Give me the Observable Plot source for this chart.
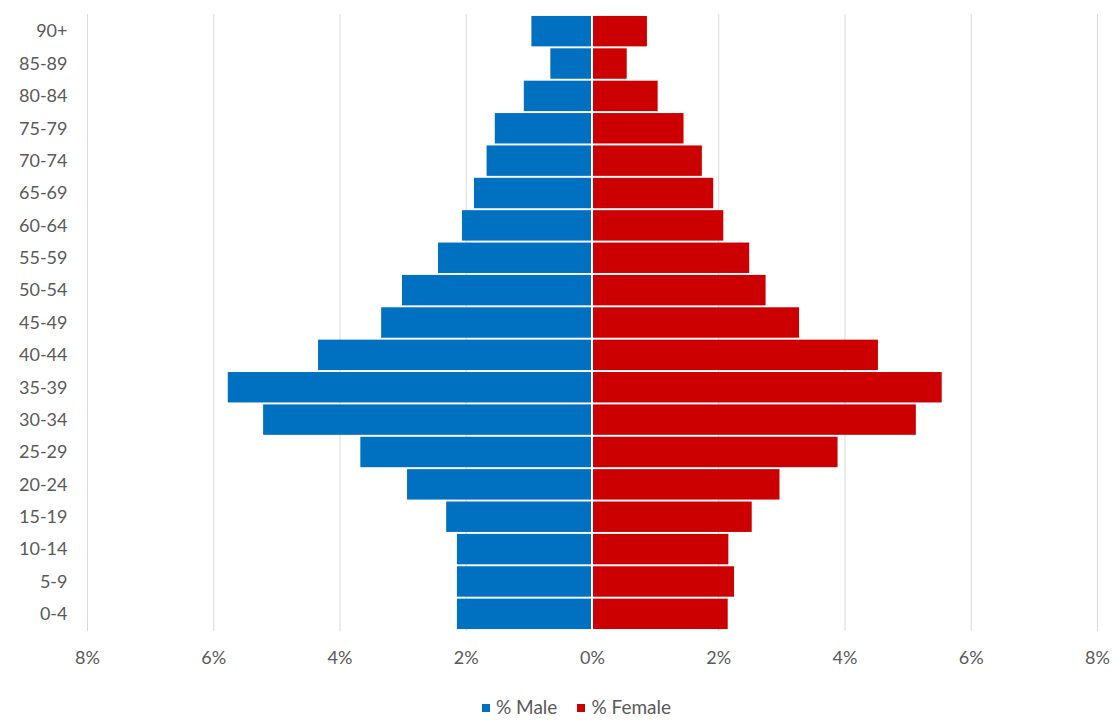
<!DOCTYPE html>
<html>
<head>
<meta charset="utf-8">
<script src="https://cdn.jsdelivr.net/npm/d3@7"></script>
<script src="https://cdn.jsdelivr.net/npm/@observablehq/plot@0.6"></script>
<style>
  html, body { margin: 0; padding: 0; background: #fff; }
  #wrap { width: 1113px; font-family: Lato, "Open Sans", sans-serif; color: #595959; }
  #legend { display: flex; justify-content: center; gap: 20px; font-size: 19px; height: 30px; align-items: center; margin-top: 11px; padding-left: 40px; }
  #legend span.sw { display: inline-block; width: 8px; height: 8px; margin-right: 6px; vertical-align: middle; position: relative; top: -1px; }
</style>
</head>
<body>
<div id="wrap">
  <div id="chart"></div>
  <div id="legend"></div>
</div>
<script>
const ageGroups = ["90+","85-89","80-84","75-79","70-74","65-69","60-64","55-59","50-54","45-49","40-44","35-39","30-34","25-29","20-24","15-19","10-14","5-9","0-4"];
const malePct   = [0.96,0.66,1.08,1.54,1.67,1.87,2.06,2.44,3.01,3.34,4.34,5.77,5.21,3.67,2.93,2.31,2.14,2.14,2.14];
const femalePct = [0.87,0.55,1.04,1.45,1.74,1.92,2.08,2.49,2.75,3.28,4.53,5.54,5.13,3.89,2.97,2.53,2.16,2.25,2.15];
const xTicks = [-8,-6,-4,-2,0,2,4,6,8];
const seriesNames = ["% Male", "% Female"];
const seriesColors = ["#0070C0", "#CC0000"];

const maleData = ageGroups.map((a, i) => ({age: a, v: -malePct[i]}));
const femaleData = ageGroups.map((a, i) => ({age: a, v: femalePct[i]}));

const chart = Plot.plot({
  width: 1113,
  height: 680,
  marginLeft: 87,
  marginRight: 16,
  marginTop: 14,
  marginBottom: 49,
  style: { fontFamily: "Lato, 'Open Sans', sans-serif", fontSize: "18px", color: "#595959", background: "#fff" },
  x: { domain: [-8, 8], ticks: xTicks },
  y: { domain: ageGroups, padding: 0.06, round: false },
  marks: [
    Plot.gridX(xTicks.filter(d => d !== 0), { stroke: "#d9d9d9", strokeOpacity: 1, strokeWidth: 1 }),
    Plot.barX(maleData, { x: "v", y: "age", fill: seriesColors[0], insetRight: 1 }),
    Plot.barX(femaleData, { x: "v", y: "age", fill: seriesColors[1], insetLeft: 1 }),
    Plot.axisX({ ticks: xTicks, tickSize: 0, tickPadding: 20, tickFormat: d => Math.abs(d) + "%", fill: "#595959", label: null }),
    Plot.axisY({ tickSize: 0, tickPadding: 20, fill: "#595959", label: null })
  ]
});
document.getElementById("chart").appendChild(chart);

const legend = document.getElementById("legend");
seriesNames.forEach((n, i) => {
  const item = document.createElement("div");
  item.innerHTML = `<span class="sw" style="background:${seriesColors[i]}"></span>${n}`;
  legend.appendChild(item);
});
</script>
</body>
</html>
